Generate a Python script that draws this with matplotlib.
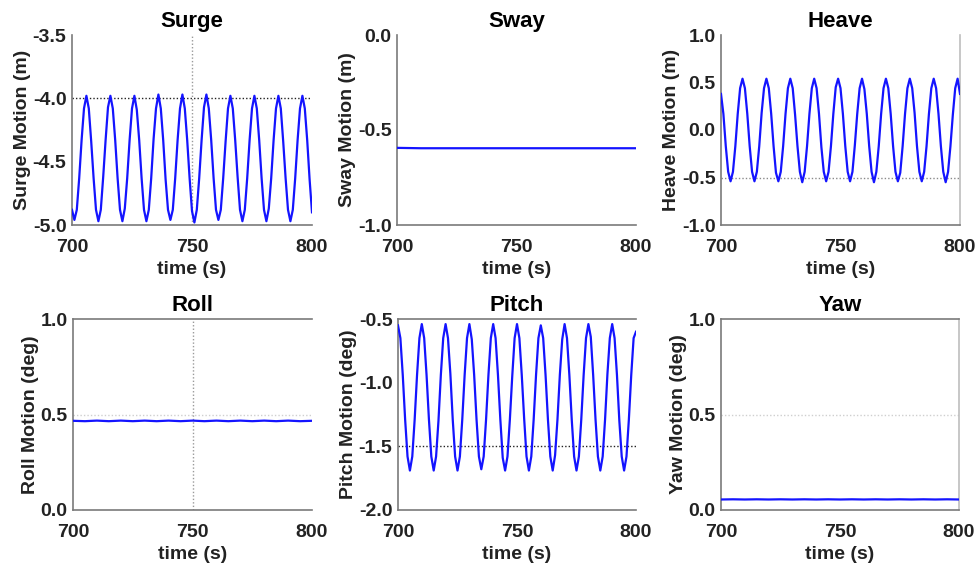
import matplotlib
matplotlib.use("Agg")
import matplotlib.pyplot as plt
import numpy as np

plt.rcParams["font.family"] = ["Liberation Sans", "DejaVu Sans"]
plt.rcParams["font.weight"] = "bold"

# sampling times (1 s for the oscillating records, 5 s for the flat ones)
t_fine = np.arange(700, 801, 1)
t_coarse = np.arange(700, 801, 5)

surge_m = [
    -4.88, -4.96, -4.88, -4.63, -4.33, -4.08, -3.98, -4.08, -4.34, -4.63,
    -4.88, -4.97, -4.88, -4.62, -4.33, -4.07, -3.98, -4.08, -4.33, -4.63,
    -4.88, -4.97, -4.87, -4.63, -4.33, -4.08, -3.98, -4.09, -4.33, -4.63,
    -4.88, -4.97, -4.88, -4.63, -4.32, -4.08, -3.97, -4.08, -4.33, -4.64,
    -4.88, -4.96, -4.88, -4.63, -4.33, -4.08, -3.97, -4.08, -4.33, -4.63,
    -4.89, -4.98, -4.88, -4.63, -4.33, -4.07, -3.97, -4.08, -4.33, -4.63,
    -4.88, -4.96, -4.88, -4.63, -4.34, -4.08, -3.98, -4.08, -4.33, -4.62,
    -4.88, -4.97, -4.88, -4.63, -4.33, -4.08, -3.98, -4.08, -4.33, -4.63,
    -4.88, -4.97, -4.87, -4.63, -4.33, -4.08, -3.98, -4.08, -4.34, -4.63,
    -4.88, -4.97, -4.88, -4.63, -4.33, -4.08, -3.98, -4.08, -4.33, -4.64,
    -4.90,
]

heave_m = [
    0.38, 0.17, -0.17, -0.44, -0.54, -0.44, -0.17, 0.17, 0.44, 0.54,
    0.44, 0.17, -0.17, -0.44, -0.54, -0.44, -0.17, 0.18, 0.44, 0.54,
    0.44, 0.17, -0.17, -0.45, -0.54, -0.44, -0.17, 0.17, 0.44, 0.54,
    0.44, 0.16, -0.17, -0.44, -0.55, -0.44, -0.17, 0.17, 0.44, 0.54,
    0.44, 0.17, -0.18, -0.44, -0.54, -0.44, -0.17, 0.17, 0.45, 0.54,
    0.44, 0.17, -0.17, -0.44, -0.54, -0.44, -0.16, 0.17, 0.44, 0.54,
    0.43, 0.17, -0.17, -0.44, -0.55, -0.44, -0.17, 0.17, 0.44, 0.54,
    0.44, 0.17, -0.17, -0.44, -0.54, -0.45, -0.17, 0.17, 0.44, 0.54,
    0.44, 0.18, -0.17, -0.44, -0.54, -0.44, -0.17, 0.17, 0.44, 0.54,
    0.44, 0.17, -0.17, -0.44, -0.55, -0.44, -0.17, 0.16, 0.44, 0.54,
    0.38,
]

pitch_deg = [
    -0.55, -0.65, -0.94, -1.29, -1.58, -1.69, -1.58, -1.29, -0.94, -0.65,
    -0.54, -0.65, -0.94, -1.29, -1.58, -1.69, -1.58, -1.30, -0.94, -0.65,
    -0.54, -0.65, -0.93, -1.29, -1.58, -1.69, -1.58, -1.29, -0.94, -0.65,
    -0.54, -0.66, -0.94, -1.29, -1.58, -1.68, -1.58, -1.29, -0.94, -0.65,
    -0.54, -0.65, -0.94, -1.29, -1.59, -1.69, -1.58, -1.29, -0.95, -0.65,
    -0.54, -0.65, -0.94, -1.28, -1.58, -1.69, -1.58, -1.29, -0.94, -0.65,
    -0.55, -0.65, -0.94, -1.29, -1.58, -1.69, -1.57, -1.29, -0.94, -0.66,
    -0.54, -0.65, -0.94, -1.29, -1.58, -1.69, -1.58, -1.29, -0.94, -0.65,
    -0.54, -0.64, -0.94, -1.29, -1.58, -1.69, -1.58, -1.29, -0.93, -0.65,
    -0.54, -0.65, -0.94, -1.30, -1.58, -1.69, -1.58, -1.29, -0.94, -0.65,
    -0.60,
]

sway_m = [-0.594, -0.595, -0.596, -0.596, -0.596, -0.596, -0.596, -0.596,
          -0.596, -0.596, -0.596, -0.596, -0.596, -0.596, -0.596, -0.596,
          -0.596, -0.596, -0.596, -0.596, -0.596]
roll_deg = [0.467, 0.465, 0.468, 0.465, 0.468, 0.465, 0.468, 0.465, 0.468,
            0.465, 0.468, 0.465, 0.468, 0.465, 0.468, 0.465, 0.468, 0.465,
            0.468, 0.465, 0.467]
yaw_deg = [0.055, 0.056, 0.055, 0.056, 0.055, 0.056, 0.055, 0.056, 0.055,
           0.056, 0.055, 0.056, 0.055, 0.056, 0.055, 0.056, 0.055, 0.056,
           0.055, 0.056, 0.055]

titles = ["Surge", "Sway", "Heave", "Roll", "Pitch", "Yaw"]
ylabels = ["Surge Motion (m)", "Sway Motion (m)", "Heave Motion (m)",
           "Roll Motion (deg)", "Pitch Motion (deg)", "Yaw Motion (deg)"]
ylims = [(-5.0, -3.5), (-1.0, 0.0), (-1.0, 1.0), (0.0, 1.0), (-2.0, -0.5), (0.0, 1.0)]
yticks = [[-5.0, -4.5, -4.0, -3.5], [-1.0, -0.5, 0.0], [-1.0, -0.5, 0.0, 0.5, 1.0],
          [0.0, 0.5, 1.0], [-2.0, -1.5, -1.0, -0.5], [0.0, 0.5, 1.0]]
xticks = [700, 750, 800]

series = [(t_fine, surge_m), (t_coarse, sway_m), (t_fine, heave_m),
          (t_coarse, roll_deg), (t_fine, pitch_deg), (t_coarse, yaw_deg)]

# pixel boxes (left, top, right, bottom) of each panel in the 979x568 canvas
W, H = 979, 568
boxes = [(72, 35, 312, 225), (397, 35, 636, 225), (721, 35, 960, 225),
         (73, 319, 312, 510), (398, 319, 636, 510), (721, 319, 959, 510)]

# which frame edges each panel shows
visible = [
    {"left": True, "bottom": True, "top": False, "right": False},
    {"left": True, "bottom": True, "top": False, "right": False},
    {"left": True, "bottom": True, "top": False, "right": True},
    {"left": True, "bottom": True, "top": True, "right": False},
    {"left": True, "bottom": True, "top": True, "right": False},
    {"left": True, "bottom": True, "top": True, "right": True},
]

# dotted reference lines: (kind, value, colour)
refs = [
    [("h", -4.0, "#222222"), ("v", 750, "#9a9a9a")],
    [],
    [("h", -0.5, "#8a8a8a")],
    [("h", 0.5, "#cfcfcf"), ("v", 750, "#9a9a9a")],
    [("h", -1.5, "#222222")],
    [("h", 0.5, "#cfcfcf")],
]

fig = plt.figure(figsize=(W / 100, H / 100), dpi=100)

for i in range(6):
    l, t, r, b = boxes[i]
    ax = fig.add_axes([l / W, 1 - b / H, (r - l) / W, (b - t) / H])
    for kind, val, col in refs[i]:
        if kind == "h":
            ax.axhline(val, color=col, linestyle=(0, (1, 1.5)), linewidth=1.0, zorder=1)
        else:
            ax.axvline(val, color=col, linestyle=(0, (1, 1.5)), linewidth=1.0, zorder=1)
    x, y = series[i]
    ax.plot(x, y, color="#1414ff", linewidth=1.6, zorder=3)

    ax.set_xlim(700, 800)
    ax.set_ylim(*ylims[i])
    ax.set_xticks(xticks)
    ax.set_yticks(yticks[i])
    ax.set_yticklabels([f"{v:.1f}" for v in yticks[i]])
    ax.tick_params(length=0, labelsize=14, labelcolor="#222222")
    ax.tick_params(axis="x", pad=10)
    ax.tick_params(axis="y", pad=4)
    for side, on in visible[i].items():
        ax.spines[side].set_visible(on)
        ax.spines[side].set_color("#bdbdbd" if side == "right" else "#7a7a7a")
        ax.spines[side].set_linewidth(1.2)
    ax.set_title(titles[i], fontsize=16, fontweight="bold", pad=6)
    ax.set_xlabel("time (s)", fontsize=14, fontweight="bold", color="#222222", labelpad=4)
    ax.set_ylabel(ylabels[i], fontsize=14, fontweight="bold", color="#222222", labelpad=1)

fig.savefig("out.png", dpi=100)
